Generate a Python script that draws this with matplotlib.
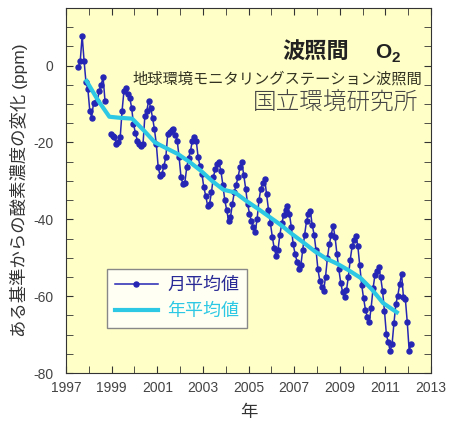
import numpy as np
import matplotlib
matplotlib.use('Agg')
from matplotlib import pyplot as plt
from matplotlib.ticker import MultipleLocator

plt.rcParams['font.family'] = ['Liberation Sans', 'Noto Sans CJK JP', 'DejaVu Sans']
plt.rcParams['axes.unicode_minus'] = False

nan = np.nan
# monthly values (Jan..Dec), ppm relative to a reference
years = list(range(1997, 2013))
m1997 = [nan, nan, nan, nan, nan, nan, -0.4, 1.3, 7.8, 1.3, -4.3, -6.1]
m1998 = [-11.7, -13.5, -9.6, -9.8, -9.1, -6.5, -5.0, -3.0, -9.1, nan, nan, -17.8]
m1999 = [-18.2, -18.7, -20.4, -19.8, -18.7, -11.7, -6.5, -5.8, -7.4, -8.3, -10.9, -15.2]
m2000 = [-17.5, -19.5, -20.4, -20.8, -20.4, -13.0, -11.7, -9.1, -10.9, -13.5, -16.5, -20.4]
m2001 = [-26.5, -28.6, -28.2, -26.0, -23.9, -17.8, -17.2, -16.8, -16.5, -18.0, -19.5, -23.9]
m2002 = [-29.1, -30.8, -30.5, -26.5, -24.0, -22.1, -19.5, -18.7, -19.5, -23.9, -26.0, -28.2]
m2003 = [-31.7, -33.9, -36.5, -36.0, -33.0, -29.0, -27.0, -25.5, -25.2, -27.5, -31.0, -35.0]
m2004 = [-37.5, -40.4, -39.5, -36.0, -33.0, -31.0, -29.0, -26.5, -25.2, -28.5, -32.0, -36.0]
m2005 = [-38.5, -40.5, -42.0, -43.4, -40.0, -35.0, -32.0, -30.5, -29.5, -33.5, -37.5, -41.0]
m2006 = [-44.5, -47.5, -49.5, -48.0, -44.0, -41.0, -39.0, -37.5, -36.5, -38.5, -42.0, -46.5]
m2007 = [-49.0, -51.0, -52.9, -52.0, -48.0, -44.0, -40.5, -38.5, -37.8, -41.5, -44.0, -48.0]
m2008 = [-53.0, -56.0, -57.5, -58.6, -55.0, -50.0, -46.5, -44.0, -41.7, -44.5, -49.0, -53.0]
m2009 = [-56.5, -59.0, -60.3, -58.5, -55.0, -50.5, -47.0, -45.5, -44.3, -47.0, -52.0, -57.0]
m2010 = [-60.5, -63.5, -65.5, -66.8, -63.0, -58.0, -54.5, -53.4, -52.5, -55.1, -58.6, -63.8]
m2011 = [-69.9, -72.0, -74.2, -72.5, -67.0, -62.0, -59.9, -56.9, -54.2, -60.3, -60.8, -66.8]
m2012 = [-74.2, -72.5, nan, nan, nan, nan, nan, nan, nan, nan, nan, nan]
monthly = [m1997, m1998, m1999, m2000, m2001, m2002, m2003, m2004,
           m2005, m2006, m2007, m2008, m2009, m2010, m2011, m2012]

# annual (running) mean
ann_t = [1997.9, 1998.4, 1998.9, 1999.4, 1999.9, 2000.4, 2000.9, 2001.4, 2001.9,
         2002.4, 2002.9, 2003.4, 2003.9, 2004.4, 2004.9, 2005.4, 2005.9, 2006.4,
         2006.9, 2007.4, 2007.9, 2008.4, 2008.9, 2009.4, 2009.9, 2010.4, 2010.9, 2011.5]
ann_v = [-4.0, -9.0, -13.3, -13.6, -13.8, -16.8, -20.0, -21.5, -23.0,
         -25.0, -27.3, -30.0, -32.3, -33.0, -35.2, -37.2, -39.3, -41.4,
         -43.8, -46.0, -48.3, -50.2, -51.6, -53.3, -55.2, -58.2, -61.8, -64.2]

xtick_years = list(range(1997, 2014, 2))

t = []
v = []
for y, vals in zip(years, monthly):
    for m, val in enumerate(vals):
        t.append(y + (m + 0.5) / 12)
        v.append(val)
t = np.array(t)
v = np.array(v)
# trim leading/trailing empty months but keep the gap inside
ok = np.where(~np.isnan(v))[0]
t = t[ok[0]:ok[-1] + 1]
v = v[ok[0]:ok[-1] + 1]

fig = plt.figure(figsize=(4.49, 4.21), dpi=100)
ax = fig.add_axes([0.147, 0.114, 0.813, 0.867])
ax.set_facecolor('#FFFFC8')

ax.plot(t, v, color='#2626B4', lw=1.1, marker='o', ms=3.6, label='月平均値')
ax.plot(ann_t, ann_v, color='#2CC8E4', lw=3.0, label='年平均値')

ax.set_xlim(1997, 2013)
ax.set_ylim(-80, 15)
ax.set_xticks(xtick_years)
ax.xaxis.set_minor_locator(MultipleLocator(1))
ax.yaxis.set_major_locator(MultipleLocator(20))
ax.yaxis.set_minor_locator(MultipleLocator(5))
ax.tick_params(which='both', direction='in', top=True, right=True, colors='#333333',
               labelcolor='#444444', labelsize=10, length=5)
ax.tick_params(axis='x', which='both', pad=6)
ax.tick_params(axis='y', which='both', pad=9)
for s in ax.spines.values():
    s.set_color('#333333')

ax.set_ylabel('ある基準からの酸素濃度の変化 (ppm)', fontsize=12.5, color='#333333', labelpad=4)
ax.set_xlabel('年', fontsize=12.5, color='#333333', labelpad=7)

ax.text(0.775, 0.879, '波照間', transform=ax.transAxes, ha='right', va='center',
        fontsize=16, fontweight='bold', color='#222222')
ax.text(0.848, 0.879, 'O', transform=ax.transAxes, ha='left', va='center',
        fontsize=15, fontweight='bold', color='#222222')
ax.text(0.893, 0.862, '2', transform=ax.transAxes, ha='left', va='center',
        fontsize=11, fontweight='bold', color='#222222')
ax.text(0.975, 0.805, '地球環境モニタリングステーション波照間', transform=ax.transAxes,
        ha='right', va='center', fontsize=11, color='#333322')
ax.text(0.965, 0.74, '国立環境研究所', transform=ax.transAxes, ha='right', va='center',
        fontsize=17, fontweight='light', color='#444444')

leg = ax.legend(loc='lower left', bbox_to_anchor=(0.111, 0.123), borderaxespad=0,
                fontsize=13, fancybox=False, framealpha=1, edgecolor='#888888',
                handlelength=2.4, borderpad=0.45, labelspacing=0.5, handletextpad=0.5)
leg.get_frame().set_facecolor('#FFFFF4')
leg.get_texts()[0].set_color('#2A2A96')
leg.get_texts()[1].set_color('#2CC8E4')

fig.savefig('out.png', dpi=100)
